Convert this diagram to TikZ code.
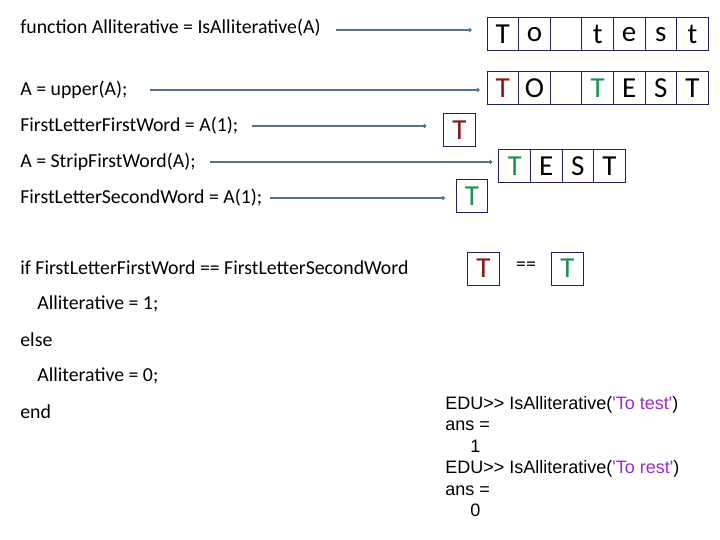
\documentclass[tikz,border=0pt]{standalone}
\usepackage{fontspec}
\setmainfont{Carlito}
\newfontfamily\consolefont{Liberation Sans}
\usetikzlibrary{positioning,arrows.meta}
\definecolor{tred}{RGB}{140,20,20}
\definecolor{tgreen}{RGB}{20,150,80}
\definecolor{tpurple}{RGB}{160,40,220}
\definecolor{arrowblue}{RGB}{85,115,145}
\definecolor{boxnavy}{RGB}{30,30,110}
\tikzset{every picture/.style={line width=0.75pt}}
\tikzset{
  code/.style={anchor=west,inner sep=0pt,font=\fontsize{19.8}{22}\selectfont},
  cell/.style={draw=boxnavy,line width=1pt,minimum width=31.6pt,minimum height=33pt,inner sep=0pt,font=\fontsize{29}{31}\selectfont},
  feed/.style={draw=arrowblue,line width=1.5pt,-{Circle[length=3.5pt]}},
  console/.style={anchor=north west,inner sep=0pt,align=left,font=\consolefont\fontsize{18}{21.5}\selectfont}
}
\begin{document}
\begin{tikzpicture}[x=1pt,y=1pt,yscale=-1]
\useasboundingbox (0,0) rectangle (720,540);

% code lines
\node[code] (fn) at (20,28) {function Alliterative = IsAlliterative(A)};
\node[code] (up) at (20,90) {A = upper(A);};
\node[code] (ff) at (20,126) {FirstLetterFirstWord = A(1);};
\node[code] (st) at (20,162) {A = StripFirstWord(A);};
\node[code] (fs) at (20,198) {FirstLetterSecondWord = A(1);};
\node[code] (cmp) at (20,268) {if FirstLetterFirstWord == FirstLetterSecondWord};
\node[code] (a1) at (37,304) {Alliterative = 1;};
\node[code] (el) at (20,340) {else};
\node[code] (a0) at (37,376) {Alliterative = 0;};
\node[code] (en) at (20,412) {end};

% input string
\foreach \ch [count=\i] in {T,o,{},t,e,s,t}
  \node[cell] (in\i) at (471.2+31.6*\i,34.5) {\ch};
% upper case string
\foreach \ch [count=\i] in {\textcolor{tred}{T},O,{},\textcolor{tgreen}{T},E,S,T}
  \node[cell] (up\i) at (471.2+31.6*\i,88.5) {\ch};
% first letters
\node[cell,text=tred] (fl) at (459.5,130.5) {T};
\foreach \ch [count=\i] in {\textcolor{tgreen}{T},E,S,T}
  \node[cell] (sw\i) at (483+31.6*\i,166.5) {\ch};
\node[cell,text=tgreen] (sl) at (472,196.5) {T};
\node[cell,text=tred] (cl) at (483.5,268.5) {T};
\node[inner sep=0pt,font=\fontsize{19.8}{22}\selectfont] (eq) at (526,266) {==};
\node[cell,text=tgreen] (cr) at (567.5,268.5) {T};

% arrows
\coordinate (s1) at (336,30);
\coordinate (s2) at (150,90);
\coordinate (s3) at (252,126);
\coordinate (s4) at (210,162);
\coordinate (s5) at (270,198);
\draw[feed] (s1) -- ([xshift=-15pt]s1 -| in1.west);
\draw[feed] (s2) -- ([xshift=-7pt]s2 -| up1.west);
\draw[feed] (s3) -- ([xshift=-17pt]s3 -| fl.west);
\draw[feed] (s4) -- ([xshift=-6pt]s4 -| sw1.west);
\draw[feed] (s5) -- ([xshift=-11pt]s5 -| sl.west);

% console output
\node[console] (out) at (445,396) {EDU>> IsAlliterative(\textcolor{tpurple}{'To test'})\\
ans =\\
\hspace{25pt}1\\
EDU>> IsAlliterative(\textcolor{tpurple}{'To rest'})\\
ans =\\
\hspace{25pt}0};
\end{tikzpicture}
\end{document}
